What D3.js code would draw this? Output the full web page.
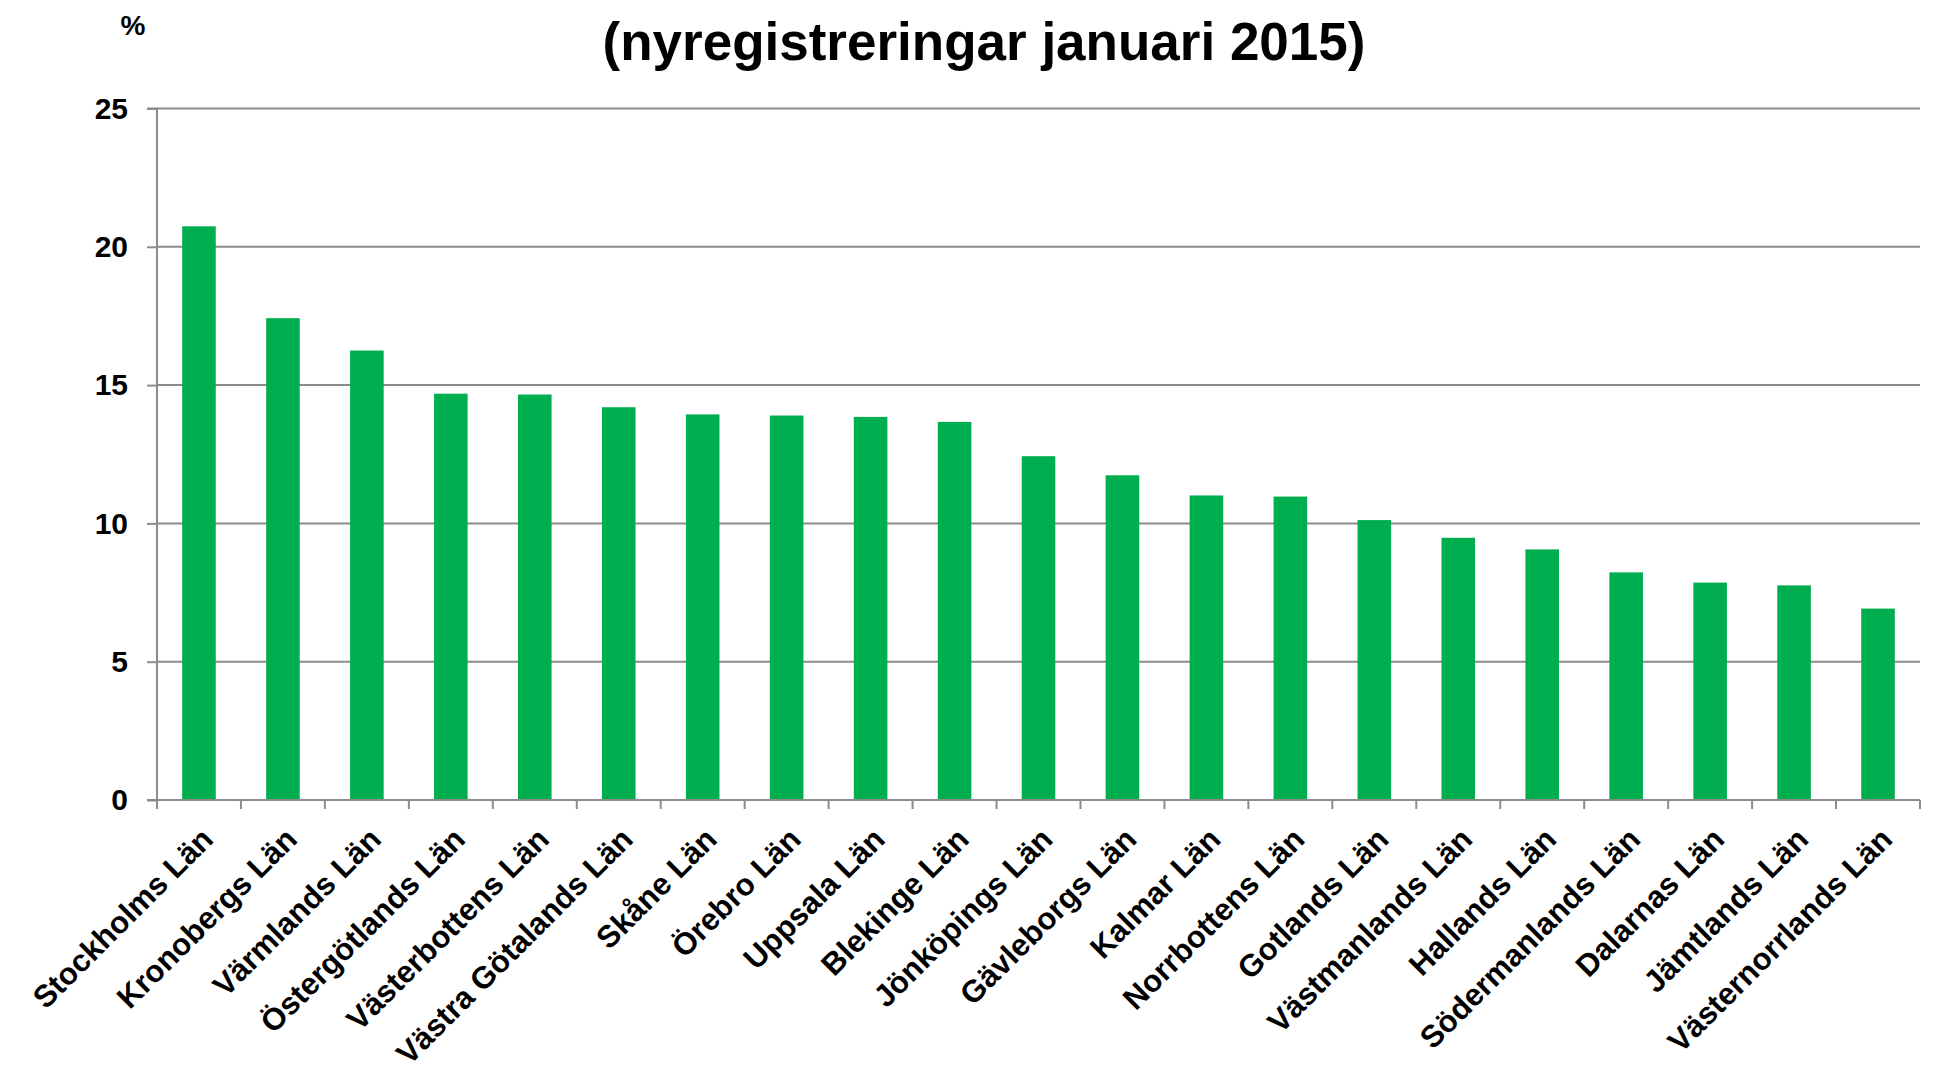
<!DOCTYPE html>
<html><head><meta charset="utf-8">
<script src="https://cdn.jsdelivr.net/npm/d3@7"></script>
<style>
html,body{margin:0;padding:0;background:#fff;}
svg{display:block;}
text{font-family:"Liberation Sans",Arial,sans-serif;font-weight:bold;fill:#000;}
</style></head>
<body>
<svg id="chart" width="1949" height="1071"></svg>
<script>
const title = "(nyregistreringar januari 2015)";
const unitLabel = "%";
const categories = ["Stockholms Län","Kronobergs Län","Värmlands Län","Östergötlands Län","Västerbottens Län","Västra Götalands Län","Skåne Län","Örebro Län","Uppsala Län","Blekinge Län","Jönköpings Län","Gävleborgs Län","Kalmar Län","Norrbottens Län","Gotlands Län","Västmanlands Län","Hallands Län","Södermanlands Län","Dalarnas Län","Jämtlands Län","Västernorrlands Län"];
const values = [20.74, 17.42, 16.25, 14.69, 14.66, 14.2, 13.94, 13.9, 13.85, 13.67, 12.43, 11.74, 11.01, 10.97, 10.12, 9.48, 9.06, 8.23, 7.86, 7.76, 6.92];
const yTicks = [0, 5, 10, 15, 20, 25];

(function () {
const svg = d3.select("#chart");
const mLeft = 157, mRight = 1920, mTop = 108.5, mBottom = 800;

const x = d3.scaleBand().domain(categories).range([mLeft, mRight]).paddingInner(0.6).paddingOuter(0.3);
const y = d3.scaleLinear().domain([0, 25]).range([mBottom, mTop]);

// gridlines
svg.append("g").selectAll("line").data(yTicks.filter(d => d > 0)).join("line")
  .attr("x1", mLeft).attr("x2", mRight)
  .attr("y1", d => y(d)).attr("y2", d => y(d))
  .attr("stroke", "#8c8c8c").attr("stroke-width", 2);

// bars
svg.append("g").selectAll("rect").data(values).join("rect")
  .attr("x", (d, i) => x(categories[i]))
  .attr("width", x.bandwidth())
  .attr("y", d => y(d))
  .attr("height", d => y(0) - y(d))
  .attr("fill", "#00ae4f");

// y axis
const yAxis = d3.axisLeft(y).tickValues(yTicks).tickSize(10).tickPadding(19).tickFormat(d3.format("d"));
const gy = svg.append("g").attr("transform", `translate(${mLeft},0)`).call(yAxis);
gy.select(".domain").attr("stroke", "#8c8c8c").attr("stroke-width", 2)
  .attr("d", `M-10,${mTop}H0V${mBottom + 9}`);
gy.selectAll(".tick line").attr("stroke", "#8c8c8c").attr("stroke-width", 2);
gy.selectAll(".tick text").style("font-size", "30px").attr("font-family", null);

// x axis (ticks at band boundaries)
const boundaries = d3.range(categories.length + 1).map(i => mLeft + i * (mRight - mLeft) / categories.length);
svg.append("line").attr("x1", mLeft - 10).attr("x2", mRight).attr("y1", mBottom).attr("y2", mBottom)
  .attr("stroke", "#8c8c8c").attr("stroke-width", 2);
svg.append("g").selectAll("line").data(boundaries).join("line")
  .attr("x1", d => d).attr("x2", d => d).attr("y1", mBottom).attr("y2", mBottom + 9)
  .attr("stroke", "#8c8c8c").attr("stroke-width", 2);

// x labels
svg.append("g").selectAll("text").data(categories).join("text")
  .attr("transform", d => `translate(${x(d) + x.bandwidth() / 2 + 16},${mBottom + 41}) rotate(-45)`)
  .attr("text-anchor", "end")
  .style("font-size", "31px")
  .text(d => d);

// title
svg.append("text").attr("x", 984).attr("y", 60).attr("text-anchor", "middle")
  .style("font-size", "53px").text(title);
svg.append("text").attr("x", 133).attr("y", 35).attr("text-anchor", "middle")
  .style("font-size", "28px").text(unitLabel);
})();
</script>
</body></html>
